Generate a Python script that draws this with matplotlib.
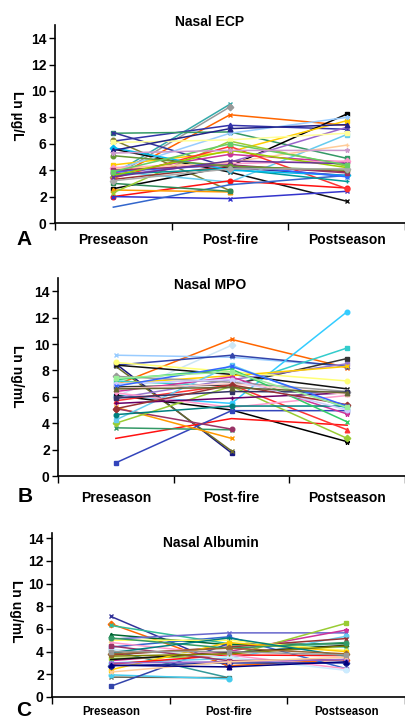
import numpy as np
import matplotlib
matplotlib.use("Agg")
import matplotlib.pyplot as plt

nan = np.nan
categories = ["Preseason", "Post-fire", "Postseason"]

# ---- Panel A: Nasal ECP (Ln ug/L) ----
ecp_pre  = [3.7, 3.5, 3.4, 6.2, 6.8, 6.85, 6.3, 2.6, 5.6, 4.4, 4.0, 3.9, 2.0, 2.0, 1.2, 2.5, 3.0, 2.3,
            3.6, 3.8, 4.2, 6.1, 3.3, 4.1, 3.4, 3.7, 5.7, 3.9, 4.0, 3.6, 5.1, 3.2, 3.5, 3.9, 5.5, 5.3]
ecp_fire = [9.0, 8.8, 8.2, 7.4, 6.9, 4.2, 2.45, 4.3, 3.85, 5.4, 6.8, 3.1, 3.2, 1.85, 2.9, 2.35, 2.4, 6.2,
            4.6, 5.2, 4.5, 6.3, 4.3, 4.6, 5.8, 4.1, 4.0, 4.4, 4.4, 5.5, 4.3, 4.1, 4.7, 6.0, 7.15, 5.5]
ecp_post = [nan, nan, 7.4, 7.1, 4.9, 3.6, nan, 8.25, 1.65, 7.75, 8.0, 6.7, 2.65, 2.4, 3.6, nan, nan, 4.3,
            7.25, 4.6, 4.7, 6.8, 3.9, 5.9, 2.6, 3.15, 3.6, 3.5, 3.8, 4.2, 4.0, 4.1, 4.5, 4.4, 7.45, 5.5]

# ---- Panel B: Nasal MPO (Ln ng/mL) ----
mpo_pre  = [6.9, 6.0, 9.15, 8.4, 8.5, 8.3, 6.1, 7.2, 8.4, 6.75, 6.1, 5.9, 8.6, 7.0, 2.85, 5.7, 1.0,
            3.65, 5.2, 5.1, 4.0, 4.25, 6.4, 6.3, 4.65, 5.5, 7.55, 7.3, 5.9, 6.6, 7.0, 5.1, 6.8, 7.4, 6.6]
mpo_fire = [10.35, 9.9, 9.0, 9.15, 1.75, 1.9, 5.5, 6.8, 7.7, 6.9, 5.0, 7.3, 7.9, 7.6, 4.35, 6.9, 4.95,
            3.5, 2.85, 3.55, 6.8, 8.4, 7.5, 5.2, 5.3, 5.9, 7.1, 8.1, 6.4, 7.0, 7.3, 6.9, 8.3, 7.9, 6.7]
mpo_post = [8.2, nan, 8.3, 8.3, nan, nan, 12.45, 9.7, 6.6, 8.9, 2.6, 8.5, 7.2, 8.3, 3.85, 3.5, 4.95,
            nan, nan, nan, 2.85, 5.1, 4.7, 6.1, 5.3, 6.3, 6.4, 4.1, 6.35, 6.2, 5.0, 5.4, 5.3, 5.2, 6.3]

# ---- Panel C: Nasal Albumin (Ln ug/mL) ----
alb_pre  = [7.1, 6.45, 6.3, 5.5, 4.1, 1.75, 1.95, 0.95, 5.1, 4.4, 3.2, 3.4, 3.0, 3.7, 3.3, 5.0, 2.4,
            2.9, 4.8, 4.2, 2.75, 4.5, 3.0, 3.6, 5.2, 3.9, 3.8, 2.2, 4.0, 2.8]
alb_fire = [2.7, 2.75, 4.7, 4.6, 1.7, 1.7, 1.6, 4.7, 5.65, 5.3, 4.0, 3.6, 3.4, 4.4, 3.9, 5.0, 4.8,
            3.7, 3.7, 3.5, 3.0, 3.2, 3.1, 3.8, 4.3, 5.2, 4.3, 3.1, 4.0, 2.65]
alb_post = [nan, 3.3, 4.4, 4.7, nan, nan, nan, nan, 5.65, 2.5, 5.9, 6.5, 5.35, 5.15, 4.55, 4.1, 4.0,
            3.65, 2.5, 2.35, 3.0, 3.3, 3.3, 4.5, 4.8, 3.6, 3.8, 3.5, 3.7, 3.1]

# ---- styling ----
colors_a = ["#33AAAA", "#999999", "#FF6600", "#3333AA", "#339966", "#333399", "#808033", "#000000",
            "#111111", "#FFCC00", "#99CCFF", "#66CCEE", "#FF1111", "#3333CC", "#3366CC", "#FF9900",
            "#2E8B57", "#99CC33", "#9966CC", "#CC3399", "#FF99CC", "#FFFF99", "#993333", "#FFCC99",
            "#FF3333", "#009999", "#00BBEE", "#3366FF", "#993366", "#99CC00", "#669933", "#AAAAAA",
            "#663399", "#66CC66", "#222288", "#CC99CC"]
colors_b = ["#FF6600", "#CCE6F5", "#99CCFF", "#3344AA", "#1A1A80", "#6B6B2A", "#33CCFF", "#33CCCC",
            "#111111", "#333333", "#000000", "#9977CC", "#FFFF77", "#FFCC00", "#FF1111", "#FF3333",
            "#3344BB", "#339966", "#FF9900", "#993366", "#99CC33", "#66CCEE", "#CC3399", "#FF99CC",
            "#008080", "#660066", "#999999", "#33CC66", "#333366", "#FFCCCC", "#CCCCFF", "#993333",
            "#3366FF", "#99EE99", "#666633"]
colors_c = ["#333399", "#FF6600", "#33BB99", "#006633", "#339999", "#666655", "#44CCEE", "#3344AA",
            "#6666CC", "#3366CC", "#CC3399", "#99CC33", "#66CCEE", "#993333", "#111111", "#FFFF66",
            "#FFCC00", "#FF1111", "#FF99CC", "#CCECFF", "#223399", "#993366", "#9966CC", "#808000",
            "#339966", "#008080", "#996633", "#FFCC99", "#999999", "#000080"]
marker_cycle = ["x", "D", "x", "^", "s", "x", "o", "s", "x", "s", "*", "s", "o", "x", "", "^", "s",
                "x", "x", "o", "D", "s", "*", "+", "o", "+", "D", "x", "s", "^", "o", "D", "x", "s",
                "^", "*"]

plt.rcParams['font.family'] = ['Liberation Sans', 'DejaVu Sans']
plt.rcParams['font.weight'] = 'bold'

W, H = 405, 722
fig = plt.figure(figsize=(W / 100, H / 100), dpi=100)

def px(x, y):
    return x / W, 1 - y / H

panels = [
    dict(pre=ecp_pre, fire=ecp_fire, post=ecp_post, colors=colors_a,
         rect=[55 / W, 1 - 223 / H, 1 - 55 / W, 198 / H], ylim=15.0,
         title="Nasal ECP", tpos=(210, 22), ylabel="Ln \u00b5g/L", ylpos=(17, 116),
         letter="A", lpos=(24, 239), xfs=10),
    dict(pre=mpo_pre, fire=mpo_fire, post=mpo_post, colors=colors_b,
         rect=[58 / W, 1 - 476 / H, 1 - 58 / W, 198 / H], ylim=15.0,
         title="Nasal MPO", tpos=(210, 285), ylabel="Ln ng/mL", ylpos=(17, 376),
         letter="B", lpos=(25, 496), xfs=10),
    dict(pre=alb_pre, fire=alb_fire, post=alb_post, colors=colors_c,
         rect=[52 / W, 1 - 697 / H, 1 - 52 / W, 164 / H], ylim=14.45,
         title="Nasal Albumin", tpos=(211, 543), ylabel="Ln ug/mL", ylpos=(16, 611),
         letter="C", lpos=(24, 711), xfs=8.3),
]

xpos = np.array([0.5, 1.5, 2.5])
for p in panels:
    ax = fig.add_axes(p["rect"])
    n = len(p["pre"])
    for i in range(n):
        vals = np.array([p["pre"][i], p["fire"][i], p["post"][i]], dtype=float)
        c = p["colors"][i % len(p["colors"])]
        m = marker_cycle[i % len(marker_cycle)]
        ax.plot(xpos, vals, color=c, lw=1.1, marker=m if m else None,
                markersize=3.3, markeredgewidth=1.0)
    ax.set_xlim(0, 3)
    ax.set_ylim(0, p["ylim"])
    ax.set_yticks(range(0, 15, 2))
    ax.tick_params(axis='y', direction='out', length=4, width=1, labelsize=10, pad=2)
    ax.set_xticks([0, 1, 2, 3])
    ax.set_xticklabels([])
    ax.tick_params(axis='x', direction='out', length=5, width=1)
    for lab in ax.get_yticklabels():
        lab.set_fontweight('bold')
    for s in ["top", "right"]:
        ax.spines[s].set_visible(False)
    for s in ["left", "bottom"]:
        ax.spines[s].set_linewidth(1.2)
    ax.patch.set_alpha(0)
    fig.text(*px(*p["tpos"]), p["title"], ha="center", va="center", fontsize=10, fontweight="bold")
    fig.text(*px(*p["ylpos"]), p["ylabel"], ha="center", va="center", rotation=270,
             fontsize=10, fontweight="bold")
    fig.text(*px(*p["lpos"]), p["letter"], ha="center", va="center", fontsize=15, fontweight="bold")
    y_lab = {"A": 240, "B": 498, "C": 712}[p["letter"]]
    x0 = p["rect"][0] * W
    unit = (W - x0) / 3
    for k, cat in enumerate(categories):
        fig.text(*px(x0 + unit * (k + 0.5), y_lab), cat, ha="center", va="center",
                 fontsize=p["xfs"], fontweight="bold")

fig.savefig("out.png", dpi=100)
